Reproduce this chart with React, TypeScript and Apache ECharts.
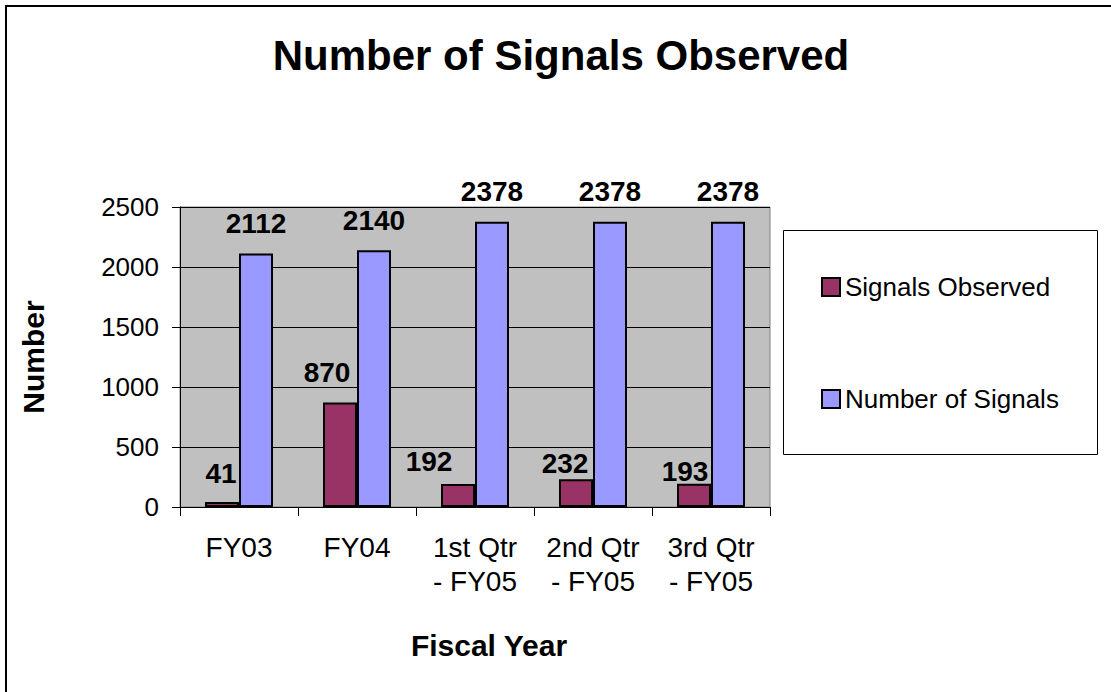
import React, { useEffect, useRef } from "react";
import * as echarts from "echarts";

const categories = ["FY03", "FY04", "1st Qtr\n- FY05", "2nd Qtr\n- FY05", "3rd Qtr\n- FY05"];
const signalsObserved = [41, 870, 192, 232, 193];
const numberOfSignals = [2112, 2140, 2378, 2378, 2378];
const yTicks = { min: 0, max: 2500, interval: 500 };

// label nudges (style only), [dx, dy] in pixels
const observedLabelNudge = [
  [-1, 1],
  [-13, 0],
  [-29, 8],
  [-11, 14],
  [-9, 18],
];

const FONT = "'Liberation Sans', Arial, Helvetica, sans-serif";

export default function App() {
  const ref = useRef<HTMLDivElement>(null);

  useEffect(() => {
    if (!ref.current) return;
    const chart = echarts.init(ref.current, null, { renderer: "svg" });

    const labelStyle = {
      show: true,
      position: "top",
      distance: 16,
      color: "#000",
      fontFamily: FONT,
      fontWeight: "bold",
      fontSize: 28,
    };

    chart.setOption({
      animation: false,
      backgroundColor: "#ffffff",
      textStyle: { fontFamily: FONT },
      grid: {
        left: 180,
        right: 341,
        top: 207,
        bottom: 185,
        show: true,
        backgroundColor: "#C0C0C0",
        borderColor: "#808080",
        borderWidth: 1,
        containLabel: false,
      },
      legend: {
        orient: "vertical",
        left: 821,
        top: 274,
        padding: 0,
        itemWidth: 18,
        itemHeight: 18,
        itemGap: 86,
        icon: "rect",
        textStyle: {
          fontFamily: FONT,
          fontSize: 26,
          color: "#000",
          lineHeight: 26,
        },
        data: ["Signals Observed", "Number of Signals"],
      },
      xAxis: {
        type: "category",
        data: categories,
        axisLine: { lineStyle: { color: "#000", width: 1 } },
        axisTick: { show: true, length: 9, lineStyle: { color: "#000" }, alignWithLabel: false },
        axisLabel: {
          color: "#000",
          fontFamily: FONT,
          fontSize: 28,
          lineHeight: 34,
          margin: 23,
          interval: 0,
        },
        splitLine: { show: false },
      },
      yAxis: {
        type: "value",
        min: yTicks.min,
        max: yTicks.max,
        interval: yTicks.interval,
        axisLine: { show: true, lineStyle: { color: "#000", width: 1 } },
        axisTick: { show: true, length: 8, lineStyle: { color: "#000" } },
        axisLabel: {
          color: "#000",
          fontFamily: FONT,
          fontSize: 26,
          margin: 21,
          formatter: (v: number) => String(v),
        },
        splitLine: { show: true, lineStyle: { color: "#000", width: 1 } },
      },
      series: [
        {
          name: "Signals Observed",
          type: "bar",
          barWidth: 34,
          barGap: "0%",
          itemStyle: { color: "#993366", borderColor: "#000", borderWidth: 2 },
          label: labelStyle,
          data: signalsObserved.map((v, i) => ({
            value: v,
            label: { offset: observedLabelNudge[i] },
          })),
        },
        {
          name: "Number of Signals",
          type: "bar",
          barWidth: 34,
          barGap: "0%",
          itemStyle: { color: "#9999FF", borderColor: "#000", borderWidth: 2 },
          label: labelStyle,
          data: numberOfSignals,
        },
      ],
      graphic: [
        {
          type: "rect",
          shape: { x: 6, y: 6, width: 1300, height: 900 },
          style: { fill: "none", stroke: "#000", lineWidth: 2 },
          silent: true,
          z: 100,
        },
        {
          type: "rect",
          shape: { x: 783.5, y: 230.5, width: 314, height: 224 },
          style: { fill: "none", stroke: "#000", lineWidth: 1 },
          silent: true,
        },
        {
          type: "text",
          x: 561,
          y: 55,
          style: {
            text: "Number of Signals Observed",
            fontFamily: FONT,
            fontWeight: "bold",
            fontSize: 42,
            fill: "#000",
            textAlign: "center",
            textVerticalAlign: "middle",
          },
        },
        {
          type: "text",
          x: 489,
          y: 645,
          style: {
            text: "Fiscal Year",
            fontFamily: FONT,
            fontWeight: "bold",
            fontSize: 30,
            fill: "#000",
            textAlign: "center",
            textVerticalAlign: "middle",
          },
        },
        {
          type: "text",
          x: 33,
          y: 357,
          rotation: Math.PI / 2,
          style: {
            text: "Number",
            fontFamily: FONT,
            fontWeight: "bold",
            fontSize: 30,
            fill: "#000",
            textAlign: "center",
            textVerticalAlign: "middle",
          },
        },
      ],
    });

    return () => chart.dispose();
  }, []);

  return (
    <div
      ref={ref}
      style={{ position: "absolute", left: 0, top: 0, width: 1111, height: 692 }}
    />
  );
}
